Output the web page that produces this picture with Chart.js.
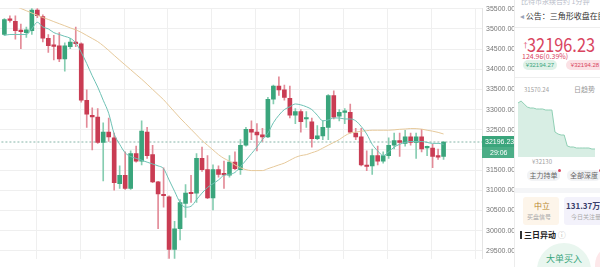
<!DOCTYPE html>
<html>
<head>
<meta charset="utf-8">
<script src="https://cdn.jsdelivr.net/npm/chart.js@4.4.0/dist/chart.umd.min.js"></script>
<style>
  body { margin: 0; background: #fff; font-family: "Liberation Sans", "Noto Sans CJK SC", sans-serif; }
  #wrap { position: relative; width: 600px; height: 267px; overflow: hidden; }
  #main { position: absolute; left: 0; top: 0; }
  #panel { position: absolute; left: 514px; top: 0; width: 86px; height: 267px; background: #fff; border-left: 1px solid #ececec; overflow: hidden; }
  .t { position: absolute; white-space: nowrap; font-family: "Noto Sans CJK SC", "Liberation Sans", sans-serif; }
  .pill { position: absolute; height: 10px; line-height: 10px; border-radius: 5px; font-size: 6px; text-align: center; }
  .hr { position: absolute; left: 0; width: 86px; height: 1px; background: #eeeeee; }
  .dot { position: absolute; width: 3px; height: 3px; border-radius: 50%; background: #d9455f; }
</style>
</head>
<body>
<div id="wrap">
  <canvas id="main" width="520" height="267"></canvas>
  <div id="panel">
    <div class="t" style="left:6px;top:-4px;font-size:7px;color:#b8bcc8;">比特币永续合约 1分钟</div>
    <div class="t" style="left:5px;top:10px;font-size:8px;color:#333;"><span style="color:#9aa4b8;">◂</span> 公告：三角形收盘在即</div>
    <div class="hr" style="top:27px;"></div>
    <div class="t" style="left:7px;top:40px;font-size:7px;color:#d9455f;">↑</div>
    <div class="t" style="left:12px;top:30px;font-size:19px;color:#d9455f;transform:scaleX(0.86);transform-origin:left;">32196.23</div>
    <div class="t" style="left:7px;top:51px;font-size:7px;color:#d9455f;">124.96(0.39%)</div>
    <div class="pill" style="left:8px;top:60px;width:34px;background:#dff1e8;color:#3aa57c;">¥32194.27</div>
    <div class="pill" style="left:51px;top:60px;width:38px;background:#fbe1e5;color:#d9455f;">¥32194.28</div>
    <div class="hr" style="top:77px;"></div>
    <div class="t" style="left:9px;top:85px;font-size:6px;color:#a0a0a0;">31570.24</div>
    <div class="t" style="left:59px;top:84px;font-size:7px;color:#999;">日趋势</div>
    <div class="t" style="left:17px;top:157px;font-size:6px;color:#a0a0a0;">¥32130</div>
    <div class="pill" style="left:12px;top:170px;width:33px;height:11px;line-height:11px;background:#f2f3f5;color:#666;font-size:7px;">主力持单</div>
    <div class="dot" style="left:43px;top:169px;"></div>
    <div class="pill" style="left:52px;top:170px;width:34px;height:11px;line-height:11px;background:#f2f3f5;color:#666;font-size:7px;">全部深度</div>
    <div class="dot" style="left:84px;top:169px;"></div>
    <div style="position:absolute;left:0;top:188px;width:86px;height:5px;background:#f4f5f7;"></div>
    <div style="position:absolute;left:8px;top:197px;width:36px;height:28px;background:#fdf5ea;border-radius:3px;"></div>
    <div class="t" style="left:19px;top:200px;font-size:8px;color:#b8862d;">中立</div>
    <div class="t" style="left:12px;top:212px;font-size:6px;color:#aaa;">买盘信号</div>
    <div style="position:absolute;left:49px;top:197px;width:40px;height:28px;background:#f3f2fb;border-radius:3px;"></div>
    <div class="t" style="left:51px;top:200px;font-size:8px;font-weight:bold;color:#3a3f6b;">131.37万</div>
    <div class="t" style="left:56px;top:212px;font-size:6px;color:#aaa;">今日关注量</div>
    <div style="position:absolute;left:5px;top:231px;width:2px;height:8px;background:#333;"></div>
    <div class="t" style="left:9px;top:229px;font-size:8px;font-weight:bold;color:#222;">三日异动 <span style="font-weight:normal;color:#bbb;">ⓘ</span></div>
    <div style="position:absolute;left:22px;top:243px;width:54px;height:54px;border-radius:50%;background:#e9f6ef;"></div>
    <div class="t" style="left:31px;top:252px;font-size:9px;color:#3aa57c;">大单买入</div>
    <div style="position:absolute;left:80px;top:245px;width:40px;height:40px;border-radius:50%;background:#fde8ea;"></div>
    <canvas id="spark" width="77" height="62" style="position:absolute;left:3px;top:95px;"></canvas>
  </div>
</div>
<script>
const candleOpen = [
    34861, 35233, 35186, 34954, 34907, 34954, 35465, 35303, 34768, 34582,
    34582, 34256, 34558, 34651, 34628, 33232, 32837, 32814, 32186, 32442,
    32302, 31162, 31372, 31046, 31907, 31721, 32442, 31883, 31209, 30883,
    30837, 29534, 30046, 30674, 30930, 30930, 31790, 31511, 30813, 31511,
    31395, 31372, 31697, 31511, 32116, 32511, 32442, 32372, 32325, 33256,
    33581, 33488, 33279, 32860, 32953, 32767, 32698, 32279, 32349, 32558,
    33349, 32837, 32930, 32930, 32418, 32325, 31604, 31604, 31860, 31721,
    31860, 32116, 32232, 32163, 32325, 32186, 32325, 32050, 32047, 31837,
    31837
];
const candleClose = [
    35233, 35210, 34954, 34930, 34977, 35465, 35326, 34768, 34582, 34565,
    34256, 34582, 34675, 34635, 33232, 32884, 32820, 32186, 32442, 32325,
    31186, 31372, 31046, 31907, 31721, 32465, 31860, 31209, 30907, 30865,
    29534, 30046, 30697, 30930, 30915, 31790, 31511, 30813, 31511, 31395,
    31380, 31697, 31535, 32116, 32511, 32442, 32372, 32325, 33256, 33581,
    33488, 33302, 32860, 32953, 32698, 32791, 32279, 32349, 32558, 33349,
    32814, 32930, 32945, 32442, 32325, 31628, 31590, 31860, 31721, 31860,
    32116, 32232, 32186, 32325, 32186, 32325, 32023, 32070, 31837, 31820,
    32196.23
];
const candleHigh = [
    35256, 35326, 35326, 35117, 35047, 35530, 35540, 35349, 34861, 34837,
    34907, 34651, 34768, 35047, 34651, 33488, 33046, 33023, 32674, 32791,
    32418, 31604, 31953, 31976, 32093, 32721, 32558, 32116, 31220, 31558,
    30860, 30232, 30767, 31139, 31372, 31907, 32070, 31860, 31628, 31604,
    31721, 31860, 31953, 32256, 32558, 32721, 32651, 32535, 33302, 33605,
    33814, 33605, 33581, 33023, 33000, 32953, 32791, 32604, 32721, 33372,
    33465, 33000, 33023, 33139, 32535, 32535, 31976, 32023, 32093, 31953,
    32302, 32418, 32418, 32488, 32418, 32418, 32511, 32093, 32139, 32023,
    32209
];
const candleLow = [
    34837, 35163, 34744, 34512, 34791, 34861, 35279, 34675, 34419, 34233,
    34186, 33954, 34512, 34558, 33186, 32558, 32000, 32163, 31232, 32209,
    31000, 31046, 31023, 31023, 31697, 31628, 31790, 31186, 30046, 30581,
    29260, 29270, 29767, 30325, 30697, 30697, 31465, 30790, 30511, 31325,
    31046, 31325, 31511, 31395, 32093, 32256, 31976, 32209, 32302, 33139,
    33349, 33232, 32791, 32651, 32442, 32558, 32070, 32256, 32256, 32256,
    32767, 32721, 32651, 32418, 32256, 31604, 31488, 31395, 31628, 31674,
    31790, 32023, 31837, 32093, 32116, 31790, 31953, 31860, 31558, 31767,
    31767
];
// short moving average (teal)
const maShort = [
    34837, 34861, 34861, 34861, 34861, 35000, 35163, 35047, 35000, 34907,
    34861, 34814, 34768, 34651, 34419, 34140, 33837, 33558, 33232, 32907,
    32395, 32139, 31930, 31837, 31790, 31744, 31697, 31651, 31604, 31535,
    31255, 30976, 30697, 30581, 30604, 30767, 30930, 31070, 31162, 31255,
    31372, 31395, 31442, 31581, 31744, 31907, 32070, 32256, 32418, 32674,
    32860, 33000, 33070, 33139, 33116, 33070, 33000, 32860, 32721, 32744,
    32791, 32791, 32767, 32767, 32721, 32581, 32395, 32139, 31976, 31860,
    31953, 32070, 32139, 32186, 32209, 32209, 32209, 32186, 32163, 32163,
    32139
];
// long moving average (tan)
const maLong = [
    35675, 35617, 35559, 35505, 35449, 35393, 35338, 35282, 35233, 35179,
    35128, 35077, 35024, 34977, 34914, 34837, 34761, 34684, 34582, 34465,
    34342, 34223, 34105, 33988, 33870, 33754, 33628, 33500, 33372, 33244,
    33093, 32942, 32791, 32651, 32511, 32372, 32232, 32116, 32000, 31883,
    31790, 31721, 31628, 31558, 31511, 31488, 31488, 31488, 31535, 31581,
    31628, 31674, 31744, 31814, 31860, 31883, 31930, 31976, 32046, 32116,
    32186, 32256, 32349, 32418, 32442, 32465, 32477, 32488, 32488, 32488,
    32488, 32497, 32511, 32518, 32530, 32528, 32516, 32488, 32465, 32435,
    32395
];
const priceTicks = [29500, 30000, 30500, 31000, 31500, 32000, 32500, 33000, 33500, 34000, 34500, 35000, 35500];
const lastPrice = 32196.23;
const countdown = "29:06";
// small depth/trend area in the side panel
const sparkValues = [54, 56, 53, 50, 49, 49, 48, 48, 48, 47, 47, 47, 25, 23, 22, 22, 11, 10, 10, 9, 9, 9, 9, 9, 8, 8];

const upColor = "#3aa57c";
const downColor = "#c93c53";
const upWick = "#86cdb1";
const downWick = "#e38b98";

const isUp = candleOpen.map((o, i) => candleClose[i] >= o);

const bodies = candleOpen.map((o, i) => ({ x: i, y: [Math.min(o, candleClose[i]), Math.max(o, candleClose[i])] }));
const wicks = candleOpen.map((o, i) => ({ x: i, y: [candleLow[i], candleHigh[i]] }));

// vertical grid every 8 candles
const gridCols = [];
for (let v = 5.8; v < 87; v += 8) gridCols.push(v);

const priceLabel = {
    id: "priceLabel",
    afterDraw(chart) {
        const ctx = chart.ctx;
        const area = chart.chartArea;
        const y = chart.scales.y.getPixelForValue(lastPrice);
        ctx.save();
        ctx.fillStyle = upColor;
        ctx.fillRect(area.right, y - 6, 34, 11);
        ctx.fillStyle = "#4cae87";
        ctx.fillRect(area.right, y + 5, 34, 11);
        ctx.fillStyle = "#fff";
        ctx.font = "7px 'Liberation Sans'";
        ctx.textBaseline = "middle";
        ctx.fillText(lastPrice.toFixed(2), area.right + 3, y);
        ctx.fillText(countdown, area.right + 8, y + 11);
        ctx.restore();
    }
};

new Chart(document.getElementById("main"), {
    type: "bar",
    data: {
        datasets: [
            {
                type: "line",
                data: maShort.map((v, i) => ({ x: i, y: v })),
                borderColor: "#6dc1b4",
                borderWidth: 1,
                pointRadius: 0,
                cubicInterpolationMode: "monotone",
                order: 0,
            },
            {
                type: "line",
                data: maLong.map((v, i) => ({ x: i, y: v })),
                borderColor: "#e6c99b",
                borderWidth: 1,
                pointRadius: 0,
                cubicInterpolationMode: "monotone",
                order: 0,
            },
            {
                data: bodies,
                backgroundColor: isUp.map((u) => (u ? upColor : downColor)),
                barThickness: 4,
                minBarLength: 1.5,
                grouped: false,
                order: 1,
            },
            {
                data: wicks,
                backgroundColor: isUp.map((u) => (u ? upWick : downWick)),
                barThickness: 1,
                grouped: false,
                order: 2,
            },
            {
                type: "line",
                data: [{ x: -2, y: lastPrice }, { x: 90, y: lastPrice }],
                borderColor: "#86b5a8",
                borderWidth: 1,
                borderDash: [2, 2],
                pointRadius: 0,
                order: 3,
            },
        ],
    },
    options: {
        responsive: false,
        animation: false,
        devicePixelRatio: 1,
        layout: { padding: 0 },
        plugins: { legend: { display: false }, tooltip: { enabled: false } },
        scales: {
            x: {
                type: "linear",
                offset: false,
                min: -0.8,
                max: 87,
                afterBuildTicks: (s) => { s.ticks = gridCols.map((v) => ({ value: v })); },
                afterFit: (s) => { s.height = 0; },
                ticks: { display: false },
                grid: { color: "#efefef", drawTicks: false, offset: false },
                border: { display: false },
            },
            y: {
                position: "right",
                min: 29302,
                max: 35512,
                afterBuildTicks: (s) => { s.ticks = priceTicks.map((v) => ({ value: v })); },
                afterFit: (s) => { s.width = 38; },
                ticks: {
                    padding: 4,
                    color: "#777",
                    font: { family: "Liberation Sans", size: 7 },
                    callback: (v) => v.toFixed(2),
                },
                grid: { color: "#efefef", drawTicks: false },
                border: { color: "#e4e4e4" },
            },
        },
    },
    plugins: [priceLabel],
});

new Chart(document.getElementById("spark"), {
    type: "line",
    data: {
        labels: sparkValues.map((v, i) => i),
        datasets: [{
            data: sparkValues,
            borderColor: "#8fcfb4",
            backgroundColor: "#d8eee4",
            borderWidth: 1,
            pointRadius: 0,
            fill: "origin",
        }],
    },
    options: {
        responsive: false,
        animation: false,
        devicePixelRatio: 1,
        layout: { padding: 0 },
        plugins: { legend: { display: false }, tooltip: { enabled: false } },
        scales: {
            x: { display: false },
            y: { display: false, min: 0, max: 62 },
        },
    },
});
</script>
</body>
</html>
